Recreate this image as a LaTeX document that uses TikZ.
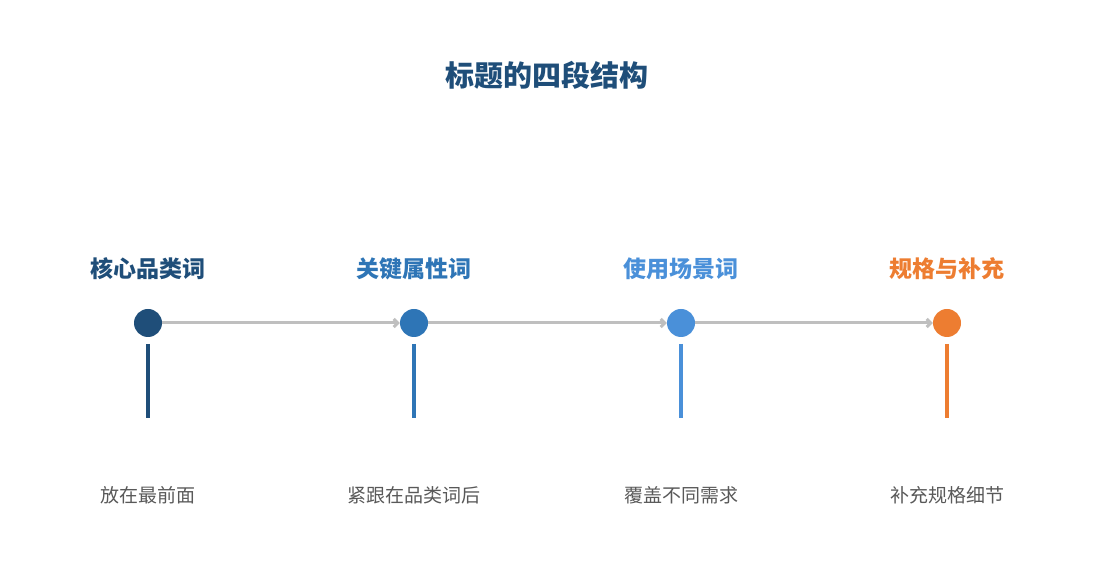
\documentclass[tikz,border=0pt]{standalone}
\usepackage{fontspec}
\setmainfont{Noto Sans CJK SC}
\usetikzlibrary{arrows.meta}
\definecolor{darkblue}{HTML}{1F4E79}
\definecolor{midblue}{HTML}{2E75B6}
\definecolor{lightblue}{HTML}{4A90D9}
\definecolor{orange}{HTML}{ED7D31}
\definecolor{descgray}{HTML}{595959}
\definecolor{linegray}{HTML}{BFBFBF}
\begin{document}
\begin{tikzpicture}[>={Straight Barb[length=4bp,width=8bp]},line join=bevel,
  dot/.style={circle,inner sep=0pt,minimum size=28bp},
  steptitle/.style={font=\bfseries\fontsize{23bp}{27bp}\selectfont},
  desc/.style={text=descgray,font=\fontsize{19bp}{23bp}\selectfont},
  flow/.style={linegray,line width=3bp,->},
  stem/.style={line width=3.5bp},
]
\useasboundingbox (0bp,0bp) rectangle (1095bp,585bp);
%%
\node (title) at (547bp,510bp) [text=darkblue,font=\bfseries\fontsize{29bp}{34bp}\selectfont] {标题的四段结构};
  \node (t_core) at (148bp,316bp) [steptitle,text=darkblue] {核心品类词};
  \node (t_attr) at (414bp,316bp) [steptitle,text=midblue] {关键属性词};
  \node (t_scene) at (681bp,316bp) [steptitle,text=lightblue] {使用场景词};
  \node (t_spec) at (947bp,316bp) [steptitle,text=orange] {规格与补充};
  \node (d_core) at (148bp,90bp) [desc] {放在最前面};
  \node (d_attr) at (414bp,90bp) [desc] {紧跟在品类词后};
  \node (d_scene) at (681bp,90bp) [desc] {覆盖不同需求};
  \node (d_spec) at (947bp,90bp) [desc] {补充规格细节};
  \node (core) at (148bp,262bp) [dot,fill=darkblue] {};
  \node (attr) at (414bp,262bp) [dot,fill=midblue] {};
  \node (scene) at (681bp,262bp) [dot,fill=lightblue] {};
  \node (spec) at (947bp,262bp) [dot,fill=orange] {};
  \coordinate (core_top) at (148bp,241bp);
  \coordinate (core_bot) at (148bp,167bp);
  \coordinate (attr_top) at (414bp,241bp);
  \coordinate (attr_bot) at (414bp,167bp);
  \coordinate (scene_top) at (681bp,241bp);
  \coordinate (scene_bot) at (681bp,167bp);
  \coordinate (spec_top) at (947bp,241bp);
  \coordinate (spec_bot) at (947bp,167bp);
  \draw [flow] (core) -- (attr);
  \draw [flow] (attr) -- (scene);
  \draw [flow] (scene) -- (spec);
  \draw [stem,darkblue] (core_top) -- (core_bot);
  \draw [stem,midblue] (attr_top) -- (attr_bot);
  \draw [stem,lightblue] (scene_top) -- (scene_bot);
  \draw [stem,orange] (spec_top) -- (spec_bot);
%
\end{tikzpicture}
\end{document}
